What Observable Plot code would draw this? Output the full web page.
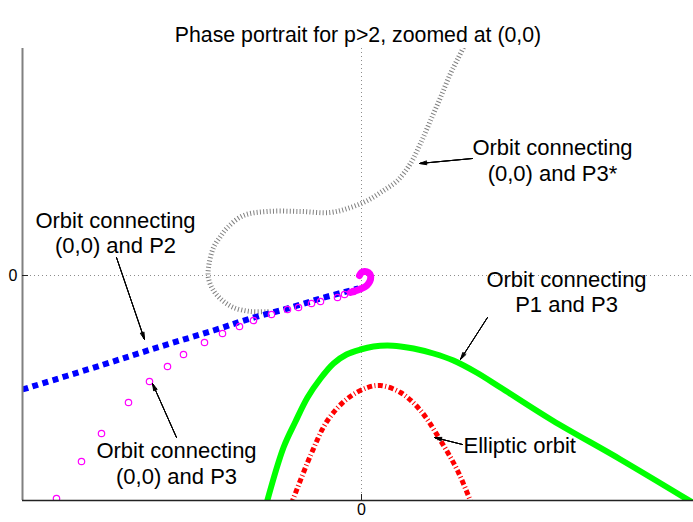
<!DOCTYPE html>
<html>
<head>
<meta charset="utf-8">
<script src="https://cdn.jsdelivr.net/npm/d3@7"></script>
<script src="https://cdn.jsdelivr.net/npm/@observablehq/plot@0.6"></script>
<style>
  html, body { margin: 0; padding: 0; background: #fff; }
  #chart { width: 693px; height: 522px; }
</style>
</head>
<body>
<div id="chart"></div>
<script>
// ---- data (arbitrary units) ----
const title = "Phase portrait for p>2, zoomed at (0,0)";
const xDomain = [-339, 332];
const yDomain = [-225, 227];
const xTicks = [0];
const yTicks = [0];

// Orbit connecting P1 and P3 (green, solid)
const orbitP1P3 = [[-95,-228],[-78,-172],[-66,-146],[-54,-122],[-41,-103],[-28,-88],[-15,-79],[-1,-74],[12,-71],[26,-70],[39,-71],[52,-73],[72,-78],[92,-85],[115,-97],[139,-112],[191,-145],[259,-184],[331,-227]];
// Elliptic orbit (red, dash-dot)
const elliptic = [[-70,-228],[-51,-180],[-34,-145],[-14,-123],[6,-112],[19,-110],[39,-117],[59,-135],[79,-165],[96,-195],[110,-228]];
// Orbit connecting (0,0) and P2 (blue, dotted)
const orbitP2 = [[-339,-114],[-261,-90],[-201,-71],[-148,-55],[-111,-43],[-74,-33],[-41,-23],[-11,-15],[-3,-13]];
// Orbit connecting (0,0) and P3 (magenta circles)
const orbitP3 = [[-305,-223],[-280,-186],[-260,-158],[-233,-127],[-212,-106],[-194,-91],[-178,-79],[-157,-67],[-139,-58],[-122,-51],[-108,-45],[-90,-39],[-74,-34],[-63,-32],[-50,-28],[-41,-26],[-24,-22],[-17,-19],[-8,-16]];
const orbitP3Hook = [[-11,-17],[-5,-15],[0,-13],[4,-11],[7,-8],[9,-4],[9,0],[7,3],[3,4],[0,3],[-2,0]];
// Orbit connecting (0,0) and P3* (gray, dotted)
const orbitP3star = [[-93,-36],[-111,-36],[-128,-32],[-139,-25],[-148,-15],[-153,-3],[-153,8],[-148,28],[-141,39],[-134,48],[-118,60],[-94,64],[-61,64],[-31,63],[-11,68],[6,75],[22,85],[36,95],[49,112],[59,132],[69,155],[79,178],[89,202],[97,218],[102,228]];

// annotation labels
const labels = [
  {x: 191, y: 128, text: "Orbit connecting", anchor: "middle"},
  {x: 191, y: 102, text: "(0,0) and P3*", anchor: "middle"},
  {x: -246, y: 55, text: "Orbit connecting", anchor: "middle"},
  {x: -246, y: 30, text: "(0,0) and P2", anchor: "middle"},
  {x: 205, y: -4, text: "Orbit connecting", anchor: "middle"},
  {x: 205, y: -29, text: "P1 and P3", anchor: "middle"},
  {x: 102, y: -170, text: "Elliptic orbit", anchor: "start"},
  {x: -185, y: -175, text: "Orbit connecting", anchor: "middle"},
  {x: -185, y: -201, text: "(0,0) and P3", anchor: "middle"}
];
// annotation arrows (tail -> tip)
const arrows = [
  {x1: 111, y1: 117, x2: 58, y2: 112},
  {x1: -245, y1: 18, x2: -217, y2: -64},
  {x1: 126, y1: -42, x2: 99, y2: -84},
  {x1: 101, y1: -169, x2: 73, y2: -162},
  {x1: -185, y1: -162, x2: -209, y2: -108}
];

const font = "'Liberation Sans', Arial, Helvetica, sans-serif";
const px = d => d[0], py = d => d[1];

const chart = Plot.plot({
  width: 693,
  height: 522,
  marginTop: 48,
  marginBottom: 22,
  marginLeft: 22,
  marginRight: 0,
  x: {domain: xDomain, axis: null},
  y: {domain: yDomain, axis: null},
  style: {fontFamily: font, background: "#fff", overflow: "visible"},
  marks: [
    // dotted zero grid lines
    Plot.ruleX(xTicks, {stroke: "#8c8c8c", strokeWidth: 1, strokeDasharray: "1,3"}),
    Plot.ruleY(yTicks, {stroke: "#8c8c8c", strokeWidth: 1, strokeDasharray: "1,3"}),
    // orbits
    Plot.line(orbitP3star, {x: px, y: py, curve: "catmull-rom", stroke: "#808080", strokeWidth: 5, strokeDasharray: "1,2.3", strokeLinecap: "butt", strokeLinejoin: "miter", clip: true}),
    Plot.line(orbitP1P3, {x: px, y: py, curve: "catmull-rom", stroke: "#00ff00", strokeWidth: 6, clip: true}),
    Plot.line(elliptic, {x: px, y: py, curve: "catmull-rom", stroke: "#ff0000", strokeWidth: 5, strokeDasharray: "5,2.5,1,2.5", strokeLinecap: "butt", strokeLinejoin: "miter", clip: true}),
    Plot.line(orbitP2, {x: px, y: py, curve: "catmull-rom", stroke: "#0000ff", strokeWidth: 6, strokeDasharray: "6,4.5", strokeLinecap: "butt", strokeLinejoin: "miter", clip: true}),
    Plot.dot(orbitP3, {x: px, y: py, r: 3.2, stroke: "#ff00ff", strokeWidth: 1.2, fill: "none", clip: true}),
    Plot.line(orbitP3Hook, {x: px, y: py, curve: "catmull-rom", stroke: "#ff00ff", strokeWidth: 7, strokeLinecap: "round"}),
    // axes lines
    Plot.ruleX([xDomain[0]], {stroke: "#808080", strokeWidth: 2}),
    Plot.ruleY([yDomain[0]], {stroke: "#222", strokeWidth: 1.5}),
    // inward ticks
    Plot.axisY(yTicks, {anchor: "left", tickSize: 6, dx: 6, text: null, stroke: "#222"}),
    Plot.axisX(xTicks, {anchor: "bottom", tickSize: 6, dy: -6, text: null, stroke: "#222"}),
    // tick labels
    Plot.text(yTicks, {y: d => d, frameAnchor: "left", dx: -5, textAnchor: "end", text: d => String(d), fontSize: 16, fill: "#000"}),
    Plot.text(xTicks, {x: d => d, frameAnchor: "bottom", dy: 14, text: d => String(d), fontSize: 16, fill: "#000"}),
    // annotations (layered heads give a filled arrowhead)
    Plot.arrow(arrows, {x1: "x1", y1: "y1", x2: "x2", y2: "y2", stroke: "#000", strokeWidth: 1, headLength: 11, headAngle: 30}),
    Plot.arrow(arrows, {x1: "x1", y1: "y1", x2: "x2", y2: "y2", stroke: "#000", strokeWidth: 1, headLength: 11, headAngle: 18}),
    Plot.arrow(arrows, {x1: "x1", y1: "y1", x2: "x2", y2: "y2", stroke: "#000", strokeWidth: 1, headLength: 11, headAngle: 8}),
    Plot.text(labels.filter(d => d.anchor === "middle"), {x: "x", y: "y", text: "text", textAnchor: "middle", fontSize: 22, fill: "#000"}),
    Plot.text(labels.filter(d => d.anchor === "start"), {x: "x", y: "y", text: "text", textAnchor: "start", fontSize: 22, fill: "#000"}),
    // title
    Plot.text([title], {frameAnchor: "top", dy: -22, text: d => d, fontSize: 21.3, fill: "#000"})
  ]
});
document.getElementById("chart").appendChild(chart);
</script>
</body>
</html>
